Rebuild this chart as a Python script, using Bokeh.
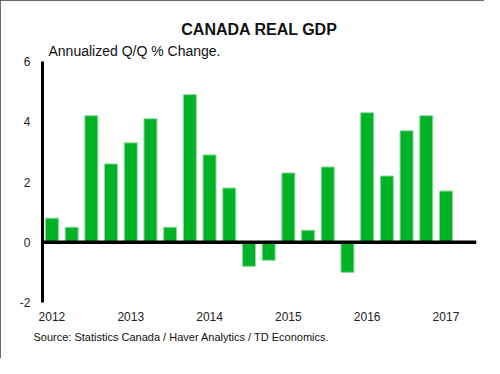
from bokeh.plotting import figure
from bokeh.models import Range1d, Span, Title, FixedTicker, ColumnDataSource
from bokeh.embed import file_html
from bokeh.resources import INLINE

quarters = ["2012Q1","2012Q2","2012Q3","2012Q4","2013Q1","2013Q2","2013Q3","2013Q4",
            "2014Q1","2014Q2","2014Q3","2014Q4","2015Q1","2015Q2","2015Q3","2015Q4",
            "2016Q1","2016Q2","2016Q3","2016Q4","2017Q1"]
gdp = [0.8, 0.5, 4.2, 2.6, 3.3, 4.1, 0.5, 4.9, 2.9, 1.8, -0.8, -0.6,
       2.3, 0.4, 2.5, -1.0, 4.3, 2.2, 3.7, 4.2, 1.7]
year_ticks = [0, 4, 8, 12, 16, 20]
year_labels = ["2012", "2013", "2014", "2015", "2016", "2017"]
y_ticks = [-2, 0, 2, 4, 6]
y_labels = ["-2", "0", "2", "4", "6"]

FONT = "Liberation Sans"
W, H = 484, 358
FL, FT, FR, FB = 42, 61, 476, 302  # frame edges in canvas pixels

p = figure(width=W, height=H, output_backend="svg", toolbar_location=None,
           x_range=Range1d(-0.48, 21.55), y_range=Range1d(-2, 6),
           min_border_left=FL, min_border_right=W - FR, min_border_top=FT,
           min_border_bottom=H - FB)
p.outline_line_color = None
p.grid.visible = False
p.background_fill_color = "white"
p.border_fill_color = "white"
p.styles = {"outline": "2px solid #3a3a3a", "outline-offset": "-2px"}

src = ColumnDataSource(dict(x=list(range(len(gdp))), top=gdp, q=quarters))
p.vbar(x="x", top="top", bottom=0, width=0.66, source=src,
       fill_color="#00B226", line_color="#8fdc9c", line_width=1)

p.add_layout(Span(location=0, dimension="width", line_color="black", line_width=3.5))

# y axis
ya = p.yaxis[0]
ya.ticker = FixedTicker(ticks=y_ticks)
ya.major_label_overrides = {t: l for t, l in zip(y_ticks, y_labels)}
ya.axis_line_width = 3
ya.axis_line_color = "black"
ya.major_tick_line_color = None
ya.minor_tick_line_color = None
ya.major_label_text_font = FONT
ya.major_label_text_font_size = "12px"
ya.major_label_text_color = "#222222"
ya.major_label_standoff = 6

# x axis
xa = p.xaxis[0]
xa.ticker = FixedTicker(ticks=year_ticks)
xa.major_label_overrides = {t: l for t, l in zip(year_ticks, year_labels)}
xa.axis_line_color = None
xa.major_tick_line_color = None
xa.minor_tick_line_color = None
xa.major_label_text_font = FONT
xa.major_label_text_font_size = "12px"
xa.major_label_text_color = "#222222"
xa.major_label_standoff = 3

p.add_layout(Title(text="Annualized Q/Q % Change.", text_font=FONT, text_font_size="14px",
                   text_font_style="normal", text_color="#111111", align="left",
                   offset=6, standoff=5), "above")
p.add_layout(Title(text="CANADA REAL GDP", text_font=FONT, text_font_size="16px",
                   text_font_style="bold", text_color="#111111", align="center",
                   offset=-5, standoff=1), "above")
# small spacer to push the source note slightly lower
p.add_layout(Title(text=" ", text_font=FONT, text_font_size="3px",
                   text_alpha=0, align="left"), "below")
p.add_layout(Title(text="Source: Statistics Canada / Haver Analytics / TD Economics.",
                   text_font=FONT, text_font_size="11px", text_font_style="normal",
                   text_color="#111111", align="left", offset=-9), "below")

open("out.html", "w").write(file_html(p, INLINE))
